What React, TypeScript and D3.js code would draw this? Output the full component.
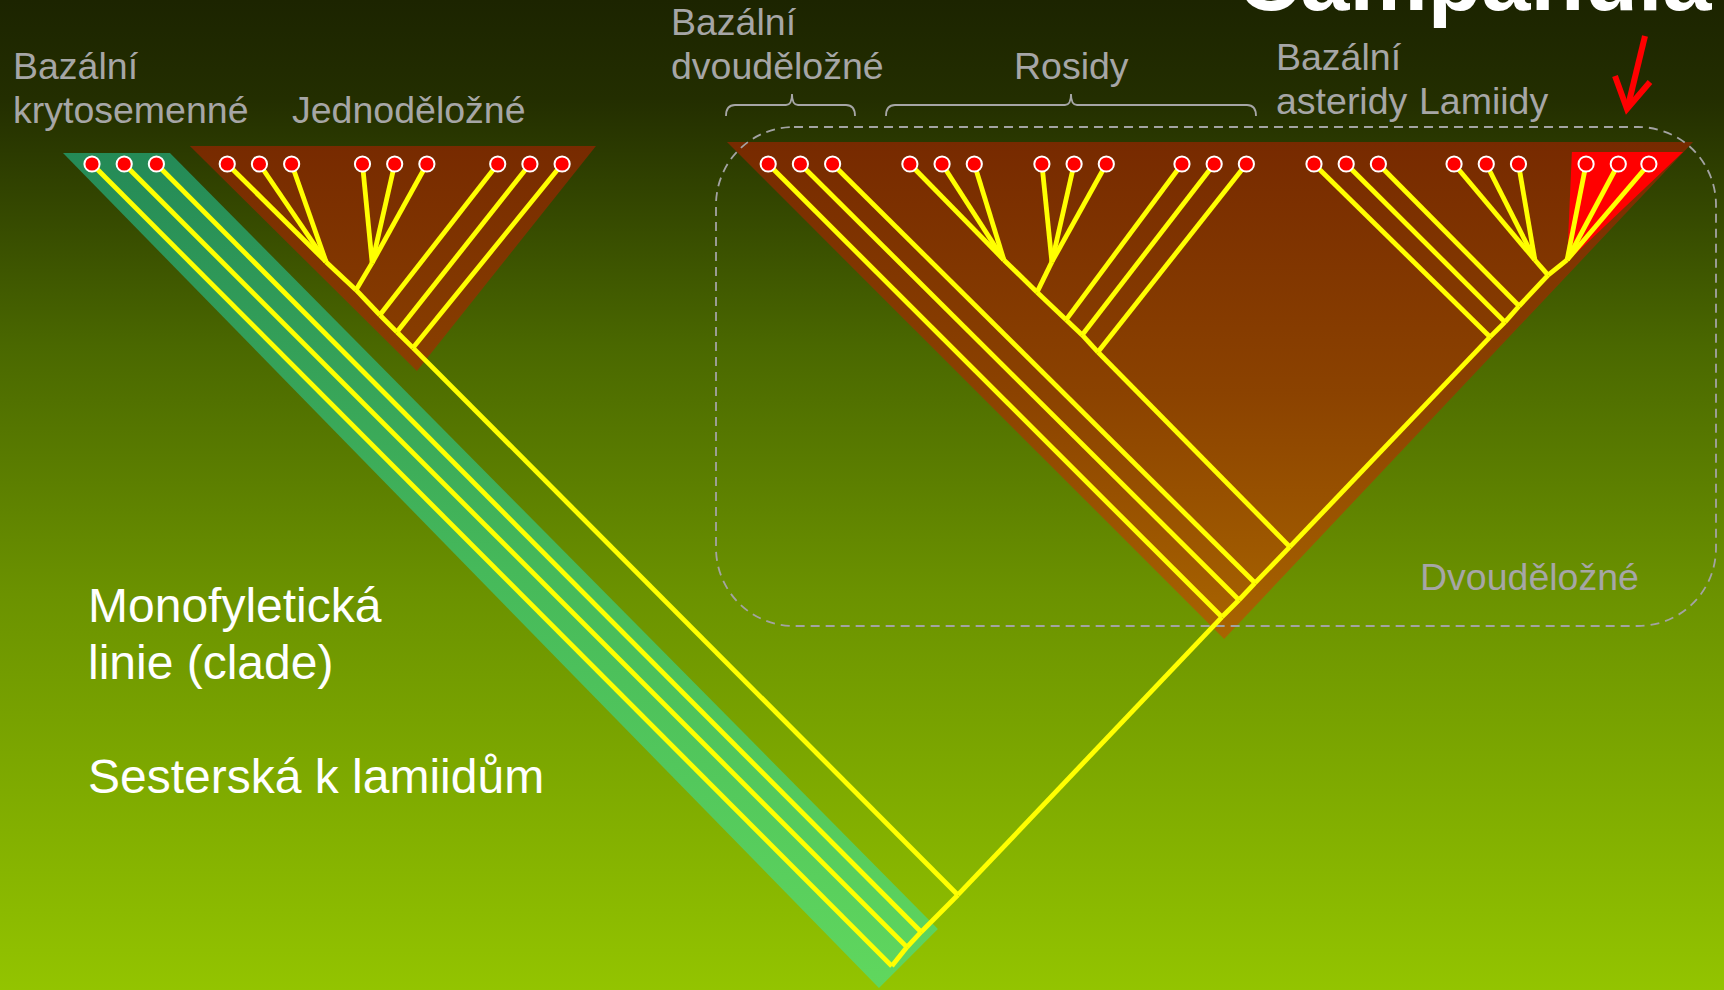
import * as d3 from "d3";

// leaf positions (in leaf-slot units, along the top row)
const basalLeaves = [0, 1, 2];
const monocotLeaves = [4.2, 5.2, 6.2, 8.4, 9.4, 10.4, 12.6, 13.6, 14.6];
const dicotLeaves = [
  21, 22, 23, 25.4, 26.4, 27.4, 29.5, 30.5, 31.5, 33.85, 34.85, 35.85,
  37.95, 38.95, 39.95, 42.3, 43.3, 44.3, 46.4, 47.4, 48.35,
];
const leaves = [...basalLeaves, ...monocotLeaves, ...dicotLeaves];

// internal nodes: name, position, depth below the leaf row
const nodeNames = ["root", "b1", "b2", "mc", "mA", "mB", "mBj", "m7", "m8", "m9", "dR", "d2", "d3", "ra", "rA", "rB", "rBj", "r10", "r11", "r12", "a13", "a14", "a15", "lJ", "lam", "camp"];
const nodePos = [24.84, 25.31, 25.75, 26.89, 7.27, 8.7, 8.2, 8.94, 9.47, 9.97, 35.09, 35.62, 36.12, 37.2, 28.32, 29.81, 29.35, 30.25, 30.75, 31.24, 43.42, 43.88, 44.32, 45.22, 44.81, 45.81];
const nodeDepth = [24.91, 24.32, 23.85, 22.7, 3.04, 3.07, 3.91, 4.69, 5.22, 5.71, 14.07, 13.54, 13.01, 11.89, 2.98, 3.04, 3.98, 4.84, 5.31, 5.84, 5.37, 4.91, 4.41, 3.45, 2.98, 2.98];

const edges: [string, string][] = [
  ["L0", "root"], ["L1", "b1"], ["L2", "b2"],
  ["L3", "mA"], ["L4", "mA"], ["L5", "mA"], ["L6", "mB"], ["L7", "mB"], ["L8", "mB"],
  ["L9", "m7"], ["L10", "m8"], ["L11", "m9"],
  ["L12", "dR"], ["L13", "d2"], ["L14", "d3"],
  ["L15", "rA"], ["L16", "rA"], ["L17", "rA"], ["L18", "rB"], ["L19", "rB"], ["L20", "rB"],
  ["L21", "r10"], ["L22", "r11"], ["L23", "r12"],
  ["L24", "a13"], ["L25", "a14"], ["L26", "a15"],
  ["L27", "lam"], ["L28", "lam"], ["L29", "lam"],
  ["L30", "camp"], ["L31", "camp"], ["L32", "camp"],
  ["root", "b1"], ["b1", "b2"], ["b2", "mc"], ["mc", "dR"], ["dR", "d2"], ["d2", "d3"], ["d3", "ra"],
  ["ra", "a13"], ["a13", "a14"], ["a14", "a15"], ["a15", "lJ"], ["lJ", "camp"], ["lam", "lJ"],
  ["mc", "m9"], ["m9", "m8"], ["m8", "m7"], ["m7", "mBj"], ["mBj", "mA"], ["mB", "mBj"],
  ["ra", "r12"], ["r12", "r11"], ["r11", "r10"], ["r10", "rBj"], ["rBj", "rA"], ["rB", "rBj"],
];

// clade shading (vertices in the same units)
const basalBand: [number, number][] = [[-0.9, -0.34], [2.42, -0.34], [26.27, 23.76], [24.44, 25.59]];
const monocotShape: [number, number][] = [[3.04, -0.56], [15.65, -0.56], [10.09, 6.43]];
const dicotShape: [number, number][] = [[19.72, -0.68], [49.72, -0.68], [35.16, 14.75]];
const campanulidShape: [number, number][] = [[45.96, -0.37], [49.41, -0.37], [45.81, 3.04]];

const topLabels = [
  { lines: ["Bazální", "krytosemenné"], x: 13, y: 79 },
  { lines: ["Jednoděložné"], x: 292, y: 123 },
  { lines: ["Bazální", "dvouděložné"], x: 671, y: 35 },
  { lines: ["Rosidy"], x: 1014, y: 79 },
  { lines: ["Bazální", "asteridy"], x: 1276, y: 70 },
  { lines: ["Lamiidy"], x: 1419, y: 114 },
];

const W = 1724;
const H = 990;

export default function App() {
  const x = d3.scaleLinear().domain([0, 50]).range([92, 92 + 50 * 32.2]);
  const y = d3.scaleLinear().domain([0, 25]).range([164, 164 + 25 * 32.2]);

  const pt = (id: string): [number, number] => {
    if (id.startsWith("L")) return [x(leaves[+id.slice(1)]), y(0)];
    const i = nodeNames.indexOf(id);
    return [x(nodePos[i]), y(nodeDepth[i])];
  };

  const poly = (v: [number, number][]) =>
    d3.line<[number, number]>().x((d) => x(d[0])).y((d) => y(d[1]))(v) + "Z";

  const brace = (x0: number, x1: number, xc: number) =>
    `M${x0},116 Q${x0},105 ${x0 + 9},105 L${xc - 6},105 Q${xc},105 ${xc},94 Q${xc},105 ${xc + 6},105 L${x1 - 9},105 Q${x1},105 ${x1},116`;

  const font = "'Liberation Sans', Arial, sans-serif";

  return (
    <svg width={W} height={H} style={{ position: "absolute", left: 0, top: 0, display: "block" }}>
      <defs>
        <linearGradient id="bg" x1="0" y1="0" x2="0" y2="1">
          <stop offset="0" stopColor="#1c2400" />
          <stop offset="0.1" stopColor="#232e00" />
          <stop offset="0.35" stopColor="#4a6800" />
          <stop offset="0.6" stopColor="#6b9200" />
          <stop offset="0.8" stopColor="#7fab00" />
          <stop offset="1" stopColor="#93c400" />
        </linearGradient>
        <linearGradient id="band" x1="0" y1="0" x2="0" y2="1">
          <stop offset="0" stopColor="#248a57" />
          <stop offset="0.5" stopColor="#46b95a" />
          <stop offset="1" stopColor="#60d75e" />
        </linearGradient>
        <linearGradient id="brown" gradientUnits="userSpaceOnUse" x1="0" y1="142" x2="0" y2="640">
          <stop offset="0" stopColor="#772a00" />
          <stop offset="0.5" stopColor="#8b4200" />
          <stop offset="1" stopColor="#a96500" />
        </linearGradient>
      </defs>
      <rect width={W} height={H} fill="url(#bg)" />

      <path d={poly(basalBand)} fill="url(#band)" />
      <path d={poly(monocotShape)} fill="url(#brown)" />
      <path d={poly(dicotShape)} fill="url(#brown)" />
      <path d={poly(campanulidShape)} fill="#ff0000" />

      <rect x={716} y={127} width={1000} height={499} rx={78} ry={78}
        fill="none" stroke="#a3a3a3" strokeWidth={1.8} strokeDasharray="9 6" />

      <g stroke="#ffff00" strokeWidth={4.8} fill="none">
        {edges.map(([a, b], i) => {
          const [x1, y1] = pt(a);
          const [x2, y2] = pt(b);
          return <line key={i} x1={x1} y1={y1} x2={x2} y2={y2} />;
        })}
      </g>

      <g fill="#ff0000" stroke="#ffffff" strokeWidth={2}>
        {leaves.map((d, i) => (
          <circle key={i} cx={x(d)} cy={y(0)} r={7.6} />
        ))}
      </g>

      <g fill="none" stroke="#a6a6a6" strokeWidth={1.8}>
        <path d={brace(726, 855, 792)} />
        <path d={brace(886, 1256, 1071)} />
      </g>

      <g fontFamily={font} fontSize={37.5} fill="#a6a6a6">
        {topLabels.map((l, i) => (
          <text key={i} x={l.x} y={l.y}>
            {l.lines.map((s, j) => (
              <tspan key={j} x={l.x} dy={j === 0 ? 0 : 44}>{s}</tspan>
            ))}
          </text>
        ))}
        <text x={1420} y={590}>Dvouděložné</text>
      </g>

      <text x={1237} y={10} fontFamily={font} fontSize={88} fontWeight="bold" fill="#ffffff">
        Campanula
      </text>

      <g stroke="#ff0000" strokeWidth={6} fill="none" strokeLinecap="butt" strokeLinejoin="miter">
        <line x1={1645} y1={36} x2={1628} y2={106} />
        <polyline points="1615,76 1627,109 1650,82" />
      </g>

      <g fontFamily={font} fontSize={48} fill="#ffffff">
        <text x={88} y={622}>Monofyletická</text>
        <text x={88} y={679}>linie (clade)</text>
        <text x={88} y={793}>Sesterská k lamiidům</text>
      </g>
    </svg>
  );
}
